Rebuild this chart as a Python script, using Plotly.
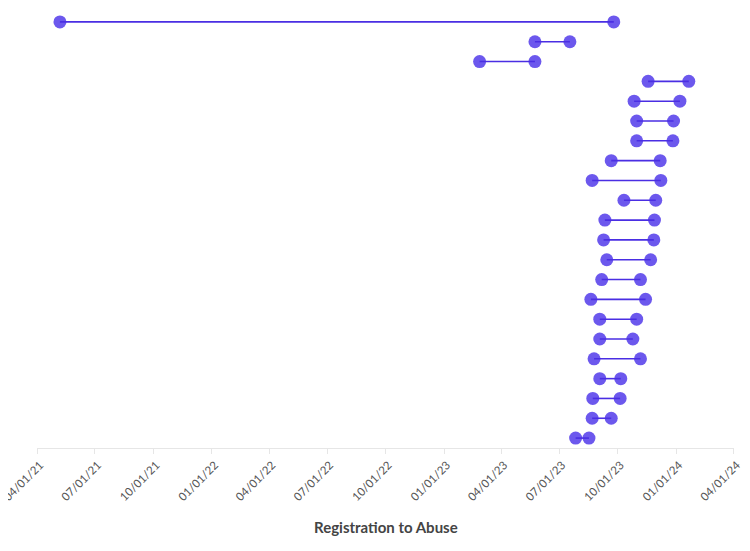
import plotly.graph_objects as go

rows = [str(i) for i in range(1, 23)]
registration = [
    "2021-05-07", "2023-05-24", "2023-02-26", "2023-11-18", "2023-10-27",
    "2023-10-31", "2023-10-31", "2023-09-21", "2023-08-22", "2023-10-11",
    "2023-09-11", "2023-09-09", "2023-09-14", "2023-09-06", "2023-08-20",
    "2023-09-03", "2023-09-03", "2023-08-25", "2023-09-03", "2023-08-23",
    "2023-08-22", "2023-07-27",
]
abuse = [
    "2023-09-25", "2023-07-18", "2023-05-24", "2024-01-21", "2024-01-07",
    "2023-12-28", "2023-12-27", "2023-12-07", "2023-12-08", "2023-11-30",
    "2023-11-28", "2023-11-27", "2023-11-22", "2023-11-06", "2023-11-14",
    "2023-10-31", "2023-10-25", "2023-11-06", "2023-10-06", "2023-10-05",
    "2023-09-21", "2023-08-17",
]
tick_vals = ["2021-04-01", "2021-07-01", "2021-10-01", "2022-01-01", "2022-04-01",
             "2022-07-01", "2022-10-01", "2023-01-01", "2023-04-01", "2023-07-01",
             "2023-10-01", "2024-01-01", "2024-04-01"]
tick_text = ["04/01/21", "07/01/21", "10/01/21", "01/01/22", "04/01/22", "07/01/22",
             "10/01/22", "01/01/23", "04/01/23", "07/01/23", "10/01/23", "01/01/24",
             "04/01/24"]

marker_color = "rgba(96, 74, 236, 0.92)"
line_color = "#4a2ee3"

fig = go.Figure()

mx, my = [], []
for r, s, e in zip(rows, registration, abuse):
    mx += [s, e]
    my += [r, r]
fig.add_trace(go.Scatter(x=mx, y=my, mode="markers",
                         marker=dict(size=13, color=marker_color, line=dict(width=0)),
                         hoverinfo="skip", showlegend=False))

lx, ly = [], []
for r, s, e in zip(rows, registration, abuse):
    lx += [s, e, None]
    ly += [r, r, None]
fig.add_trace(go.Scatter(x=lx, y=ly, mode="lines",
                         line=dict(color=line_color, width=1.6),
                         hoverinfo="skip", showlegend=False))

fig.update_layout(
    width=734, height=535,
    margin=dict(l=29, r=8, t=4, b=95, autoexpand=False),
    plot_bgcolor="white", paper_bgcolor="white",
    font=dict(family="Lato, Open Sans, sans-serif", color="#555555"),
    xaxis=dict(
        type="date",
        range=["2021-03-31 22:00", "2024-04-01 02:00"],
        tickvals=tick_vals, ticktext=tick_text,
        tickangle=-45, tickfont=dict(size=11.5, color="#555555"),
        ticklabeloverflow="allow", ticklabelshift=3,
        showgrid=False, showline=True, linecolor="#e6e6e6", linewidth=1,
        ticks="outside", ticklen=5, tickcolor="#e6e6e6",
        zeroline=False, automargin=False,
    ),
    yaxis=dict(
        type="category", categoryorder="array", categoryarray=rows,
        range=[21.5, -0.5], showticklabels=False, showgrid=False,
        zeroline=False, showline=False, ticks="", automargin=False,
    ),
    annotations=[dict(
        text="<b>Registration to Abuse</b>", xref="paper", yref="paper",
        x=0.5, y=-0.181, xanchor="center", yanchor="middle", showarrow=False,
        font=dict(size=15, color="#444444"),
    )],
)

fig.write_html("out.html")
